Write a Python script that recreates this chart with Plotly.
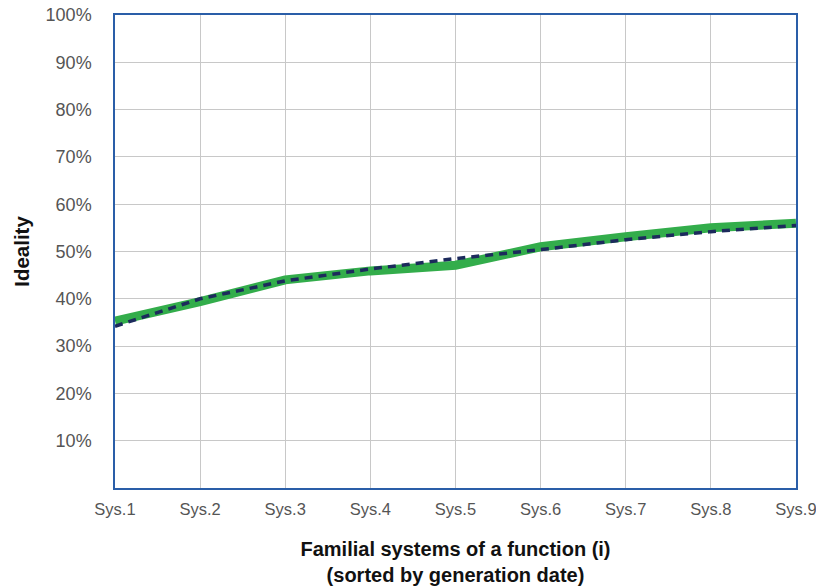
import plotly.graph_objects as go

categories = ["Sys.1", "Sys.2", "Sys.3", "Sys.4", "Sys.5", "Sys.6", "Sys.7", "Sys.8", "Sys.9"]
ideality = [35.3, 39.4, 44.0, 45.9, 47.1, 51.0, 53.1, 55.0, 56.0]
trend = [34.2, 40.0, 43.8, 46.3, 48.5, 50.4, 52.5, 54.2, 55.5]
y_ticks = [10, 20, 30, 40, 50, 60, 70, 80, 90, 100]
y_tick_labels = [f"{v}%" for v in y_ticks]

x_idx = list(range(len(categories)))

fig = go.Figure()
fig.add_trace(go.Scatter(x=x_idx, y=ideality, mode="lines",
                         line=dict(color="#33ad4b", width=9), name="Ideality",
                         showlegend=False))
fig.add_trace(go.Scatter(x=x_idx, y=trend, mode="lines",
                         line=dict(color="#1c2a5c", width=3.5, dash="8px,6px"),
                         name="Trend", showlegend=False))

font_family = "Liberation Sans, Arial, sans-serif"
fig.update_layout(
    width=816, height=588,
    margin=dict(l=115, r=20, t=15, b=100),
    paper_bgcolor="white", plot_bgcolor="white",
    font=dict(family=font_family, color="#555555", size=17),
    xaxis=dict(
        range=[0, 8], tickvals=x_idx, ticktext=categories,
        showgrid=True, gridcolor="#c8c8c8", gridwidth=1.2,
        showline=True, linecolor="#2a5ea8", linewidth=1.5, mirror=True,
        zeroline=False, ticks="", ticklabelstandoff=5, automargin=False,
        ticklabeloverflow="allow",
        tickfont=dict(size=16.5, color="#555555"),
        title=dict(text="<b>Familial systems of a function (i)<br>(sorted by generation date)</b>",
                   font=dict(size=20, color="#111111"), standoff=25),
    ),
    yaxis=dict(
        range=[0, 100], tickvals=y_ticks, ticktext=y_tick_labels,
        showgrid=True, gridcolor="#c8c8c8", gridwidth=1.2,
        showline=True, linecolor="#2a5ea8", linewidth=1.5, mirror=True,
        zeroline=False, ticks="", ticklabelstandoff=18, automargin=False,
        ticklabeloverflow="allow",
        tickfont=dict(size=18, color="#555555"),
        title=dict(text="<b>Ideality</b>", font=dict(size=20.5, color="#111111"), standoff=10),
    ),
)

fig.write_html(
    "out.html",
    config={"displayModeBar": False},
    post_script="document.body.style.margin='0';document.body.style.overflow='hidden';",
)
